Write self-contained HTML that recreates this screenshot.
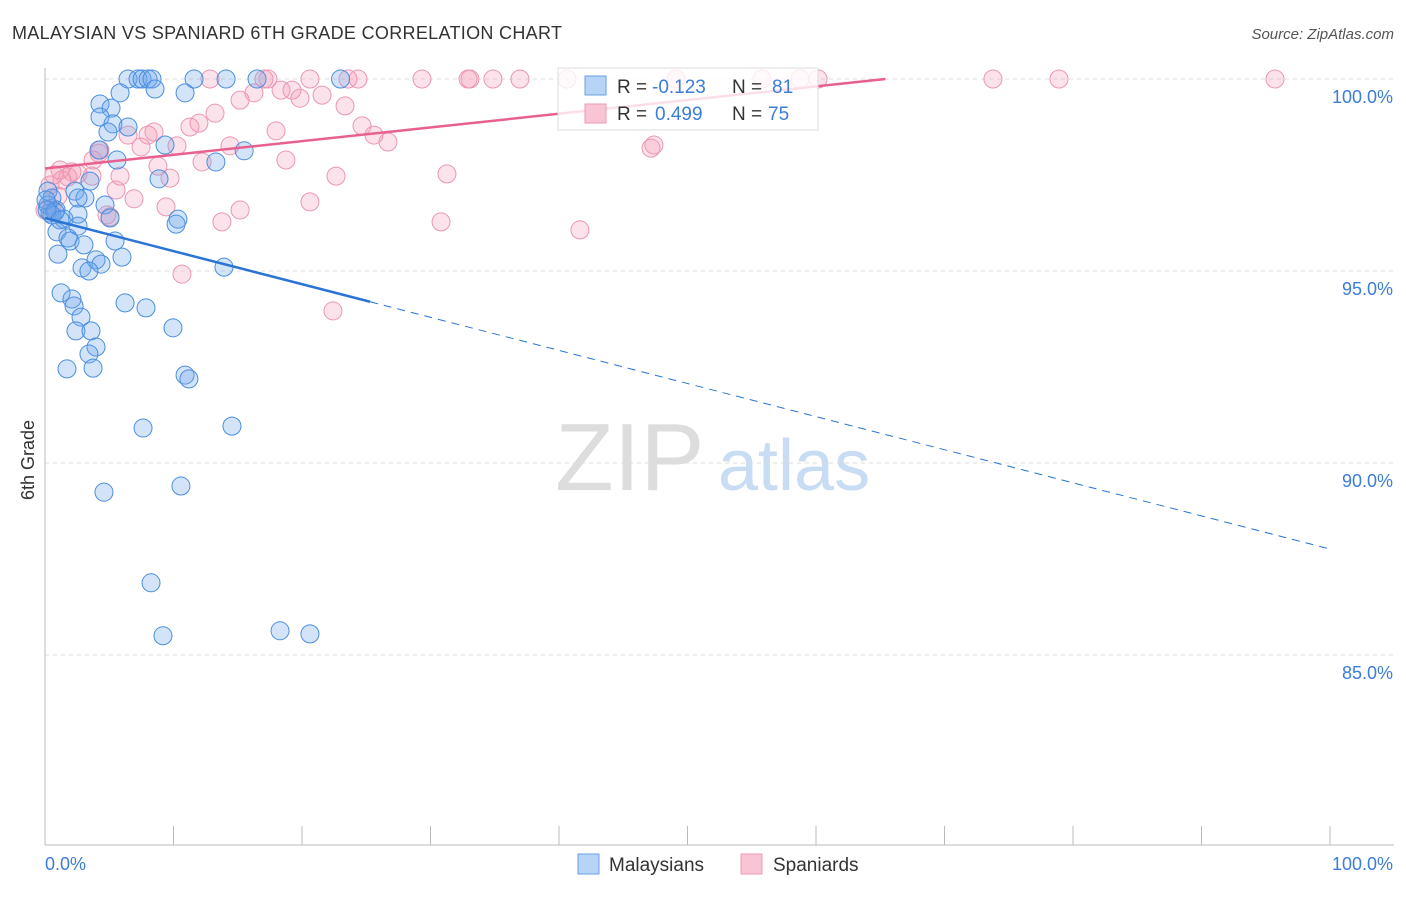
<!DOCTYPE html>
<html><head><meta charset="utf-8"><style>
body{margin:0;background:#fff;font-family:"Liberation Sans",sans-serif}
svg text{font-family:"Liberation Sans",sans-serif}
</style></head><body>
<svg id="c" width="1406" height="892">
<text x="12" y="39" font-size="18" fill="#333" textLength="550">MALAYSIAN VS SPANIARD 6TH GRADE CORRELATION CHART</text>
<text x="1394" y="39" font-size="15" fill="#555" font-style="italic" text-anchor="end">Source: ZipAtlas.com</text>
<text x="34" y="460" font-size="18" fill="#333" transform="rotate(-90 34 460)" text-anchor="middle">6th Grade</text>
<g><text x="555" y="490" font-size="96" fill="#ddd" font-family="Liberation Serif">ZIP</text><text x="718" y="490" font-size="72" fill="#c8dcf3">atlas</text></g>
<g id="grid"></g><g id="axes"></g><g id="pts"></g><g id="lines"></g>
<g>
<rect x="558" y="68" width="260" height="62" fill="#fff" fill-opacity="0.8" stroke="#ddd"/>
<rect x="585" y="76" width="21" height="19" fill="#b7d3f5" stroke="#6aa0e6"/>
<rect x="585" y="104" width="21" height="19" fill="#f9c5d5" stroke="#ec9ab5"/>
<text x="617" y="93" font-size="19" fill="#333">R = </text><text x="652" y="93" font-size="19" fill="#3b7dd8">-0.123</text>
<text x="732" y="93" font-size="19" fill="#333">N = </text><text x="772" y="93" font-size="19" fill="#3b7dd8">81</text>
<text x="617" y="120" font-size="19" fill="#333">R = </text><text x="655" y="120" font-size="19" fill="#3b7dd8">0.499</text>
<text x="732" y="120" font-size="19" fill="#333">N = </text><text x="768" y="120" font-size="19" fill="#3b7dd8">75</text>
</g>
<g>
<rect x="578" y="854" width="21" height="20" fill="#b7d3f5" stroke="#6aa0e6"/><text x="609" y="871" font-size="19" fill="#333">Malaysians</text>
<rect x="741" y="854" width="21" height="20" fill="#f9c5d5" stroke="#ec9ab5"/><text x="773" y="871" font-size="19" fill="#333">Spaniards</text>
</g>
</svg>
<script>
const yTicks=[100,95,90,85];
const blueX=[6.46,7.24,7.55,8.02,8.33,11.6,14.09,16.5,23.0,8.56,10.9,5.84,4.28,5.14,4.28,5.29,6.46,4.9,4.2,5.6,9.34,15.5,13.3,8.87,3.5,0.23,2.33,0.54,3.11,0.23,0.86,4.67,2.57,1.48,5.06,10.35,10.2,2.57,0.93,1.79,1.95,3.03,5.45,1.01,5.99,3.97,4.36,2.88,3.42,13.93,1.25,2.1,2.26,6.23,7.86,2.8,2.41,3.58,9.96,3.97,3.42,1.71,3.74,10.9,11.2,7.63,14.55,4.59,10.58,8.25,9.18,18.29,20.62,0.39,0.54,0.08,0.78,0.16,2.57,1.17];
const blueY=[100,100,100,100,100,100,100,100,100,99.74,99.64,99.64,99.35,99.24,99.01,98.83,98.75,98.62,98.15,97.89,98.28,98.13,97.84,97.4,97.34,97.08,97.08,96.9,96.9,96.72,96.59,96.72,96.48,96.35,96.38,96.35,96.22,96.17,96.02,95.86,95.78,95.68,95.78,95.44,95.36,95.29,95.18,95.08,95.0,95.1,94.43,94.27,94.09,94.17,94.04,93.8,93.44,93.44,93.52,93.02,92.84,92.45,92.47,92.29,92.19,90.91,90.96,89.24,89.4,86.88,85.5,85.63,85.55,96.51,96.46,96.85,96.54,96.59,96.9,96.33];
const pinkX=[12.84,17.04,17.35,20.62,23.58,24.36,29.34,32.92,33.07,34.86,36.96,40.62,49.1,55.8,58.75,60.16,73.77,78.91,95.72,16.26,18.37,19.22,19.84,21.56,23.35,13.23,11.28,11.98,17.98,24.67,25.6,26.69,6.46,8.02,8.48,10.27,7.47,4.28,3.74,12.22,18.75,14.4,8.79,47.39,47.16,1.17,1.79,2.57,3.66,5.84,9.73,22.65,31.28,5.53,6.93,9.42,15.18,20.62,5.06,13.77,30.82,41.63,10.66,22.41,0.39,1.01,0,1.32,0.7,4.2,2.1,4.82,15.18,0.54];
const pinkY=[100,100,100,100,100,100,100,100,100,100,100,100,100,100,100,100,100,100,100,99.64,99.71,99.71,99.5,99.58,99.3,99.11,98.75,98.85,98.65,98.78,98.54,98.36,98.54,98.54,98.62,98.26,98.23,98.15,97.89,97.84,97.89,98.26,97.73,98.28,98.2,97.63,97.45,97.53,97.47,97.47,97.42,97.47,97.53,97.11,96.88,96.67,96.59,96.8,96.41,96.28,96.28,96.07,94.92,93.96,97.24,96.95,96.59,97.37,97.5,98.07,97.58,96.46,99.45,96.64];
const blueTrend=[96.38,87.76], pinkTrend=[97.67,100.0+ (100-97.67)*(100/65.4-1)];
const NS='http://www.w3.org/2000/svg';
const X=v=>45+v*12.85, Y=v=>79+(100-v)*38.4;
function mk(tag,at,p){const e=document.createElementNS(NS,tag);for(const k in at)e.setAttribute(k,at[k]);p.appendChild(e);return e;}
const grid=document.getElementById('grid'),axes=document.getElementById('axes'),pts=document.getElementById('pts'),lines=document.getElementById('lines');
yTicks.forEach(t=>{
 const l=mk('line',{x1:45,x2:1394,y1:Y(t),y2:Y(t),stroke:'#ddd','stroke-dasharray':'4,4'},grid);
 
 
 const tx=mk('text',{x:1393,y:Y(t)+24,'font-size':18,fill:'#3b7dd8','text-anchor':'end'},grid);tx.textContent=t.toFixed(1)+'%';
 
 
});
const ax=mk('line',{x1:45,x2:45,y1:68,y2:845,stroke:'#bbb'},axes);


const bx=mk('line',{x1:45,x2:1394,y1:845,y2:845,stroke:'#bbb'},axes);


for(let i=0;i<=10;i++){const t=mk('line',{x1:X(i*10),x2:X(i*10),y1:826,y2:845,stroke:'#bbb'},axes);
 
 }
[['0.0%',45,'start'],['100.0%',1393,'end']].forEach(a=>{const t=mk('text',{x:a[1],y:870,'font-size':18,fill:'#3b7dd8','text-anchor':a[2]},axes);t.textContent=a[0];
 
 });
function dots(xs,ys,fill,st,name){xs.forEach((x,i)=>{const c=mk('circle',{cx:X(x),cy:Y(ys[i]),r:9,fill:fill,stroke:st,'stroke-width':1},pts);
 
 });}
dots(pinkX,pinkY,'rgba(244,150,180,0.28)','#eb97b2','spaniard-point');
dots(blueX,blueY,'rgba(110,165,235,0.3)','#4a8ee0','malaysian-point');
const by=x=>blueTrend[0]+(blueTrend[1]-blueTrend[0])*x/100;
const b1=mk('line',{x1:X(0),y1:Y(by(0)),x2:X(25.3),y2:Y(by(25.3)),stroke:'#2a74d6','stroke-width':2.5},lines);


const b2=mk('line',{x1:X(25.3),y1:Y(by(25.3)),x2:X(100),y2:Y(by(100)),stroke:'#2a74d6','stroke-width':1,'stroke-dasharray':'8,6'},lines);


const py=x=>pinkTrend[0]+(pinkTrend[1]-pinkTrend[0])*x/100;
const xe=(100-pinkTrend[0])/(pinkTrend[1]-pinkTrend[0])*100;
const p1=mk('line',{x1:X(0),y1:Y(py(0)),x2:X(xe),y2:Y(100),stroke:'#e8618e','stroke-width':2.5},lines);


</script>
</body></html>
